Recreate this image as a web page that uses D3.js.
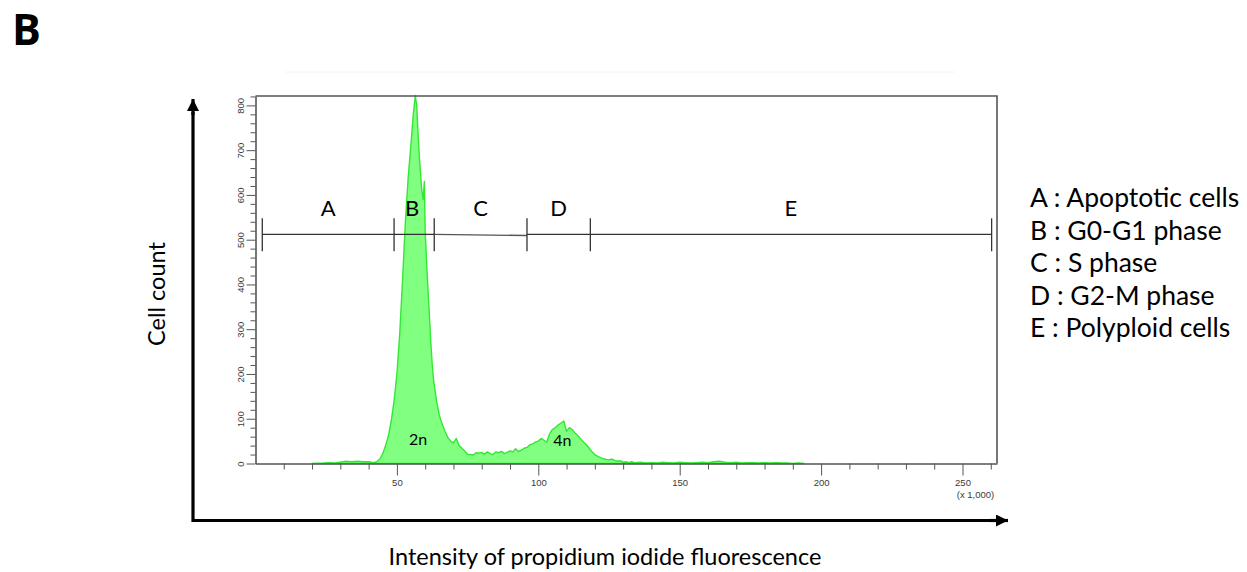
<!DOCTYPE html>
<html>
<head>
<meta charset="utf-8">
<script src="https://cdn.jsdelivr.net/npm/d3@7"></script>
<style>
  body { margin: 0; background: #fff; }
  svg { display: block; }
  .tick text { font-family: "Liberation Sans", Arial, sans-serif; font-size: 9.5px; fill: #3a3a3a; }
  .tick line { stroke: #555; }
  .domain { stroke: #555; }
  .big { font-family: Lato, "Open Sans", sans-serif; fill: #000; }
</style>
</head>
<body>
<div id="vis"></div>
<script>
// Histogram of PI fluorescence (x in thousands, cell count per channel)
var intensity = [20, 24, 26, 28, 30, 32, 34, 36, 38, 40, 42, 43, 44, 45, 46, 47, 48, 49, 50,
    51, 52, 53, 54, 55, 55.8, 56.5, 57, 57.5, 58, 58.8, 59.3, 59.7, 60, 60.5, 61, 61.5, 62, 62.5,
    63, 63.5, 64, 65, 66, 67, 68, 69, 70, 71, 71.5, 72, 73, 74, 75, 76, 77, 78, 79, 80, 81, 82,
    83, 84, 85, 86, 87, 88, 89, 90, 91, 92, 93, 94, 95, 96, 97, 98, 99, 100, 101, 102, 103, 104,
    105, 106, 107, 108, 109, 110, 111, 112, 113, 114, 115, 116, 117, 118, 119, 120, 121, 122, 123,
    124, 125, 126, 127, 128, 129, 130, 131, 132, 133, 134, 136, 138, 140, 142, 144, 146, 148, 150,
    152, 154, 156, 158, 160, 162, 164, 166, 168, 170, 172, 174, 176, 178, 180, 182, 184, 186, 188,
    190, 192, 194];
var cellCount = [0, 1, 2, 1, 3, 5, 4, 5, 4, 4, 2, 5, 10, 22, 40, 62, 95, 140, 200,
    290, 410, 540, 640, 715, 780, 822, 800, 735, 680, 610, 590, 630, 520, 450, 387, 330, 270, 220,
    185, 163, 140, 108, 88, 72, 58, 50, 46, 56, 48, 40, 34, 28, 20, 20, 19, 24, 23, 25, 21, 26,
    22, 20, 26, 24, 27, 22, 25, 28, 26, 33, 27, 30, 34, 36, 42, 44, 48, 50, 56, 52, 48, 66,
    76, 80, 86, 90, 95, 72, 80, 76, 68, 62, 55, 48, 42, 34, 26, 20, 16, 13, 11,
    9, 8, 10, 7, 5, 6, 3, 4, 2, 4, 2, 3, 1, 2, 1, 3, 2, 1, 3,
    2, 1, 2, 3, 2, 4, 5, 3, 2, 3, 1, 2, 2, 1, 2, 1, 2, 1, 1,
    0, 1, 0];

// Gates (x in thousands) and their labels
var gateNames = ['A', 'B', 'C', 'D', 'E'];
var gateEdges = [2.4, 49, 63.2, 96, 118.4, 260.3];
var gateLevel = 512;

var xMajorTicks = [50, 100, 150, 200, 250];
var yMajorTicks = [0, 100, 200, 300, 400, 500, 600, 700, 800];

var legendLines = ['A : Apoptotic cells', 'B : G0-G1 phase', 'C : S phase', 'D : G2-M phase', 'E : Polyploid cells'];

var width = 1247, height = 572;
var plot = { left: 255.5, right: 997, top: 96, bottom: 463.5 };

var svg = d3.select('#vis').append('svg')
    .attr('width', width)
    .attr('height', height);

var xScale = d3.scaleLinear().domain([0, 262.2]).range([plot.left, plot.right]);
var yScale = d3.scaleLinear().domain([0, 821]).range([plot.bottom, plot.top]);

// panel letter
svg.append('text')
    .attr('class', 'big')
    .attr('x', 12).attr('y', 45)
    .style('font-family', '"Open Sans", sans-serif')
    .style('font-weight', 'bold')
    .style('font-size', '43px')
    .text('B');

// faint line at top
svg.append('line')
    .attr('x1', 285).attr('x2', 955).attr('y1', 72).attr('y2', 72)
    .attr('stroke', '#f2f2f2').attr('stroke-width', 1);

// histogram
var area = d3.area()
    .x(function(d, i) { return xScale(intensity[i]); })
    .y0(yScale(0))
    .y1(function(d) { return yScale(d); });

svg.append('path')
    .datum(cellCount)
    .attr('d', area)
    .attr('fill', '#80ff80')
    .attr('stroke', '#33e833')
    .attr('stroke-width', 1.4)
    .attr('stroke-linejoin', 'round');

// frame: top and right
svg.append('path')
    .attr('d', 'M' + plot.left + ',' + plot.top + 'H' + plot.right + 'V' + plot.bottom)
    .attr('fill', 'none')
    .attr('stroke', '#555')
    .attr('stroke-width', 1.6);

// x axis: minor ticks then major ticks with labels
var xMinor = d3.range(10, 261, 10).filter(function(v) { return v % 50 != 0; });
svg.append('g')
    .attr('transform', 'translate(0,' + plot.bottom + ')')
    .call(d3.axisBottom(xScale).tickValues(xMinor).tickSize(6).tickFormat('').tickSizeOuter(0))
    .call(function(g) { g.select('.domain').remove(); });

var xAxisG = svg.append('g')
    .attr('transform', 'translate(0,' + plot.bottom + ')')
    .call(d3.axisBottom(xScale).tickValues(xMajorTicks).tickSize(12).tickPadding(4).tickSizeOuter(0));
xAxisG.select('.domain').attr('stroke-width', 1.6);

svg.append('text')
    .attr('x', xScale(250) + 13).attr('y', 498)
    .attr('text-anchor', 'middle')
    .style('font-family', '"Liberation Sans", Arial, sans-serif')
    .style('font-size', '9.5px')
    .attr('fill', '#3a3a3a')
    .text('(x 1,000)');

// y axis: minor ticks every 20, major every 100 with rotated labels
var yMinor = d3.range(20, 821, 20).filter(function(v) { return v % 100 != 0; });
svg.append('g')
    .attr('transform', 'translate(' + plot.left + ',0)')
    .call(d3.axisLeft(yScale).tickValues(yMinor).tickSize(5).tickFormat('').tickSizeOuter(0))
    .call(function(g) { g.select('.domain').remove(); });

var yAxisG = svg.append('g')
    .attr('transform', 'translate(' + plot.left + ',0)')
    .call(d3.axisLeft(yScale).tickValues(yMajorTicks).tickSize(9).tickSizeOuter(0));
yAxisG.select('.domain').attr('stroke-width', 1.6);
yAxisG.selectAll('.tick text')
    .attr('x', null).attr('dy', null)
    .attr('text-anchor', 'middle')
    .attr('dominant-baseline', 'central')
    .attr('transform', 'translate(-15,0) rotate(-90)');

// gate bars
var gateY = yScale(gateLevel);
var gates = svg.append('g');
gateEdges.slice(0, -1).forEach(function(e, i) {
    var x1 = xScale(e), x2 = xScale(gateEdges[i + 1]);
    gates.append('line')
        .attr('x1', x1).attr('x2', x2)
        .attr('y1', gateY).attr('y2', gateY + (i == 2 ? 1.2 : 0))
        .attr('stroke', i == 2 ? '#555' : '#333')
        .attr('stroke-width', 1.3);
    gates.append('text')
        .attr('class', 'big')
        .attr('x', (x1 + x2) / 2 + (i == 1 ? -2 : 0))
        .attr('y', gateY - 18)
        .attr('text-anchor', 'middle')
        .style('font-size', '22px')
        .text(gateNames[i]);
});
gates.selectAll('line.edge')
    .data(gateEdges)
    .enter().append('line')
    .attr('class', 'edge')
    .attr('x1', function(d) { return xScale(d); })
    .attr('x2', function(d) { return xScale(d); })
    .attr('y1', gateY - 16).attr('y2', gateY + 17)
    .attr('stroke', '#333')
    .attr('stroke-width', 1.3);

// peak labels
svg.append('text').attr('class', 'big')
    .attr('x', xScale(57.5)).attr('y', 445)
    .attr('text-anchor', 'middle').style('font-size', '16px').text('2n');
svg.append('text').attr('class', 'big')
    .attr('x', xScale(108.5)).attr('y', 446)
    .attr('text-anchor', 'middle').style('font-size', '16px').text('4n');

// outer arrows
svg.append('defs').append('marker')
    .attr('id', 'arrow')
    .attr('viewBox', '0 0 12 12')
    .attr('refX', 12).attr('refY', 6)
    .attr('markerWidth', 12).attr('markerHeight', 12)
    .attr('markerUnits', 'userSpaceOnUse')
    .attr('orient', 'auto')
    .append('path')
    .attr('d', 'M0,0L12,6L0,12Z')
    .attr('fill', '#000');

svg.append('path')
    .attr('d', 'M193,112V520.5H996')
    .attr('fill', 'none')
    .attr('stroke', '#000')
    .attr('stroke-width', 3.2);
svg.append('line')
    .attr('x1', 193).attr('y1', 115).attr('x2', 193).attr('y2', 99)
    .attr('stroke', '#000').attr('stroke-width', 3.2)
    .attr('marker-end', 'url(#arrow)');
svg.append('line')
    .attr('x1', 990).attr('y1', 520.5).attr('x2', 1008).attr('y2', 520.5)
    .attr('stroke', '#000').attr('stroke-width', 3.2)
    .attr('marker-end', 'url(#arrow)');

// axis titles
svg.append('text').attr('class', 'big')
    .attr('transform', 'translate(165,294) rotate(-90)')
    .attr('text-anchor', 'middle')
    .style('font-size', '23.5px')
    .text('Cell count');
svg.append('text').attr('class', 'big')
    .attr('x', 605).attr('y', 565)
    .attr('text-anchor', 'middle')
    .style('font-size', '23.5px')
    .text('Intensity of propidium iodide fluorescence');

// legend
svg.append('g').selectAll('text')
    .data(legendLines)
    .enter().append('text')
    .attr('class', 'big')
    .attr('x', 1030)
    .attr('y', function(d, i) { return 207 + i * 32.5; })
    .style('font-size', '26.5px')
    .text(function(d) { return d; });
</script>
</body>
</html>
